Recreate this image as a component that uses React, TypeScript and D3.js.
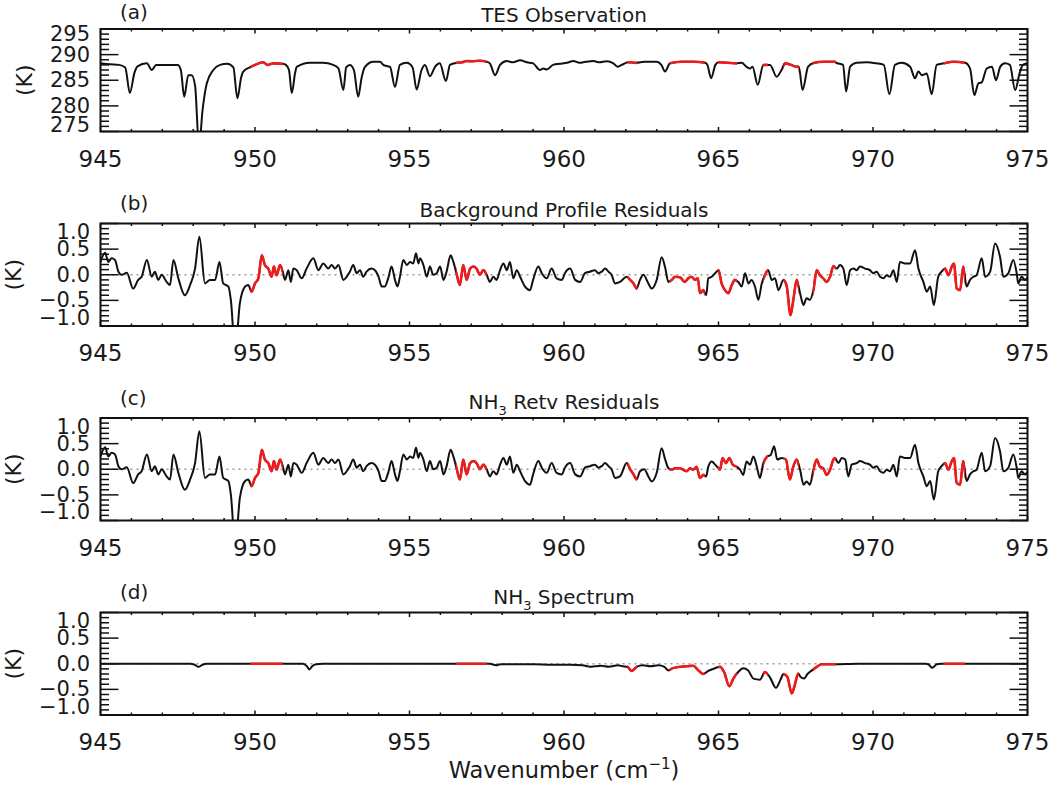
import React from 'react';
import * as d3 from 'd3';

// ---------------- DATA ----------------
const xMajorTicks = [945, 950, 955, 960, 965, 970, 975];
const xMinorTicks = d3.range(945, 976, 1);

// retrieval micro-windows drawn in red
const redWindows: [number, number][] = [
  [949.85, 950.9], [956.5, 957.5], [962.05, 962.37], [963.42, 964.56],
  [964.98, 965.6], [966.45, 966.6], [967.1, 967.6], [968.05, 968.8], [972.28, 972.98],
];

// (a) TES observation brightness temperature (K)
const tesObs: [number, number][] = [
  [945.0, 288.3], [945.3, 288.1], [945.6, 288.0], [945.8, 287.5], [945.95, 282.5], [946.1, 286.5],
  [946.2, 287.7], [946.5, 288.3], [946.66, 287.0], [946.8, 288.0], [947.2, 288.0], [947.5, 288.0],
  [947.6, 287.0], [947.71, 281.8], [947.84, 286.0], [947.95, 286.0], [948.06, 284.0], [948.19, 272.0],
  [948.3, 279.0], [948.44, 284.4], [948.65, 287.0], [948.87, 288.0], [949.1, 288.2], [949.3, 287.5],
  [949.43, 281.5], [949.55, 285.5], [949.62, 286.7], [949.86, 287.6], [950.0, 288.0], [950.27, 288.5],
  [950.4, 288.0], [950.6, 288.3], [950.9, 288.2], [951.0, 288.0], [951.1, 287.0], [951.19, 282.5],
  [951.3, 286.5], [951.35, 287.6], [951.78, 288.4], [952.2, 288.4], [952.53, 288.0], [952.7, 287.3],
  [952.86, 283.1], [952.95, 287.5], [953.07, 288.0], [953.2, 287.0], [953.34, 281.8], [953.45, 285.5],
  [953.56, 287.6], [953.83, 288.6], [954.05, 288.6], [954.15, 288.0], [954.37, 287.6], [954.53, 283.7],
  [954.69, 288.0], [954.91, 288.4], [955.1, 287.5], [955.23, 283.2], [955.39, 287.0], [955.5, 288.0],
  [955.66, 285.8], [955.83, 287.65], [955.98, 288.3], [956.18, 284.85], [956.31, 288.0], [956.53, 288.4],
  [956.7, 288.5], [956.85, 288.75], [957.0, 288.7], [957.28, 288.8], [957.5, 288.6], [957.6, 288.3],
  [957.77, 286.0], [957.93, 288.0], [958.15, 288.75], [958.35, 288.5], [958.58, 288.9], [958.8, 288.5],
  [959.0, 288.3], [959.22, 287.0], [959.33, 287.3], [959.44, 287.1], [959.65, 288.0], [959.87, 288.2],
  [960.1, 288.4], [960.3, 288.75], [960.5, 288.4], [960.7, 288.6], [960.95, 288.75], [961.15, 288.5],
  [961.38, 288.7], [961.6, 288.3], [961.73, 287.65], [961.87, 288.0], [962.08, 288.5], [962.35, 288.4],
  [962.6, 288.6], [963.0, 288.6], [963.15, 288.0], [963.27, 286.7], [963.43, 288.3], [963.8, 288.6],
  [964.2, 288.6], [964.57, 288.4], [964.64, 288.0], [964.76, 285.4], [964.9, 288.0], [965.0, 288.5],
  [965.3, 288.4], [965.58, 288.3], [965.75, 288.4], [965.9, 287.65], [966.02, 287.3], [966.1, 287.65],
  [966.27, 284.1], [966.45, 288.0], [966.67, 288.0], [966.88, 285.7], [967.04, 287.0], [967.15, 288.3],
  [967.35, 288.0], [967.5, 287.65], [967.6, 287.65], [967.72, 283.1], [967.9, 287.65], [968.1, 288.4],
  [968.4, 288.6], [968.77, 288.6], [968.82, 288.4], [969.03, 288.0], [969.13, 282.8], [969.26, 287.65],
  [969.47, 288.4], [969.8, 288.5], [970.1, 288.3], [970.35, 288.0], [970.53, 282.25], [970.71, 288.0],
  [970.93, 288.4], [971.2, 287.65], [971.36, 285.4], [971.47, 286.7], [971.58, 286.0], [971.74, 286.3],
  [971.9, 282.25], [972.06, 288.0], [972.28, 288.3], [972.6, 288.6], [972.98, 288.4], [973.14, 287.3],
  [973.28, 282.1], [973.41, 284.4], [973.52, 284.6], [973.68, 287.3], [973.85, 287.65], [973.98, 285.0],
  [974.12, 287.65], [974.27, 288.3], [974.43, 288.0], [974.6, 283.1], [974.75, 286.5], [974.85, 288.0],
  [975.0, 288.3],
];

// residuals common to (b) and (c), 945 - 962 cm-1 (K)
const residualsLeft: [number, number][] = [
  [945.0, 0.25], [945.15, 0.43], [945.25, 0.25], [945.36, 0.32], [945.47, 0.29], [945.58, 0.06],
  [945.69, 0.0], [945.85, 0.04], [946.06, -0.27], [946.22, -0.1], [946.33, -0.04], [946.5, 0.29],
  [946.66, -0.04], [946.76, 0.06], [946.87, -0.1], [946.98, 0.0], [947.14, -0.14], [947.25, -0.2],
  [947.36, 0.29], [947.52, -0.07], [947.73, -0.4], [947.9, -0.2], [948.06, 0.12], [948.2, 0.74],
  [948.38, -0.17], [948.54, -0.1], [948.71, -0.1], [948.85, 0.25], [948.97, -0.17], [949.14, -0.23],
  [949.22, -0.5], [949.36, -1.5], [949.51, -0.56], [949.68, -0.23], [949.78, -0.2], [949.89, -0.33],
  [950.0, -0.17], [950.11, -0.07], [950.22, 0.38], [950.32, 0.19], [950.43, 0.12], [950.54, -0.04],
  [950.61, 0.16], [950.7, -0.01], [950.81, 0.19], [950.9, 0.06], [950.97, -0.1], [951.08, 0.09],
  [951.16, -0.14], [951.24, 0.12], [951.35, 0.09], [951.51, -0.07], [951.67, 0.12], [951.89, 0.32],
  [952.05, 0.09], [952.21, 0.22], [952.37, 0.12], [952.48, 0.19], [952.59, 0.12], [952.7, 0.19],
  [952.86, -0.1], [953.07, 0.06], [953.18, 0.19], [953.29, 0.03], [953.4, 0.09], [953.5, -0.04],
  [953.61, 0.06], [953.77, 0.12], [953.88, 0.09], [954.0, -0.04], [954.1, -0.23], [954.2, -0.23],
  [954.31, -0.07], [954.42, 0.16], [954.53, -0.1], [954.61, -0.23], [954.69, -0.04], [954.8, 0.29],
  [954.91, 0.19], [955.02, 0.25], [955.12, 0.22], [955.21, 0.42], [955.29, 0.22], [955.34, 0.32],
  [955.45, 0.19], [955.56, -0.04], [955.66, 0.16], [955.77, 0.0], [955.88, 0.03], [955.99, 0.16],
  [956.1, -0.1], [956.2, 0.06], [956.33, 0.38], [956.42, 0.25], [956.53, 0.0], [956.63, -0.2],
  [956.74, 0.19], [956.85, -0.1], [956.96, 0.12], [957.07, 0.16], [957.17, 0.12], [957.28, 0.0],
  [957.39, 0.09], [957.5, 0.0], [957.6, -0.14], [957.71, -0.04], [957.82, -0.1], [957.93, 0.09],
  [958.04, 0.22], [958.15, 0.09], [958.25, 0.25], [958.36, -0.07], [958.47, 0.09], [958.58, -0.04],
  [958.74, -0.23], [958.9, -0.3], [959.0, -0.1], [959.17, 0.16], [959.28, 0.03], [959.44, -0.07],
  [959.6, 0.12], [959.76, -0.07], [959.93, -0.1], [960.03, 0.03], [960.2, 0.12], [960.36, -0.1],
  [960.52, -0.14], [960.68, 0.03], [960.84, 0.06], [961.0, 0.09], [961.11, 0.03], [961.22, 0.06],
  [961.33, 0.12], [961.44, 0.06], [961.54, 0.0], [961.65, -0.17], [961.81, -0.14],
];

// (b) background residuals, 962 - 969.5 cm-1
const bgResidualsMid: [number, number][] = [
  [962.03, -0.04], [962.14, -0.1], [962.25, -0.17], [962.35, -0.27], [962.46, -0.1], [962.57, 0.0],
  [962.73, -0.17], [962.84, -0.27], [963.0, -0.1], [963.16, 0.34], [963.27, 0.15], [963.38, -0.14],
  [963.49, -0.1], [963.59, -0.04], [963.75, -0.05], [963.91, -0.14], [964.02, -0.07], [964.13, -0.04],
  [964.24, -0.1], [964.33, -0.07], [964.4, -0.36], [964.51, -0.3], [964.6, -0.4], [964.67, -0.07],
  [964.78, -0.04], [964.89, 0.03], [965.0, 0.09], [965.1, -0.17], [965.21, -0.3], [965.32, -0.36],
  [965.43, -0.2], [965.53, -0.1], [965.64, -0.14], [965.75, -0.23], [965.86, 0.03], [965.97, -0.17],
  [966.07, -0.1], [966.18, -0.23], [966.29, -0.49], [966.4, -0.17], [966.5, -0.01], [966.61, 0.09],
  [966.72, -0.1], [966.83, -0.07], [966.94, -0.3], [967.1, -0.1], [967.21, -0.23], [967.33, -0.79],
  [967.42, -0.5], [967.53, -0.1], [967.64, -0.36], [967.75, -0.59], [967.85, -0.46], [967.96, -0.49],
  [968.07, -0.3], [968.18, 0.09], [968.28, -0.01], [968.39, -0.07], [968.5, -0.14], [968.61, -0.04],
  [968.72, 0.17], [968.83, 0.12], [968.93, 0.19], [969.04, 0.12], [969.15, -0.2], [969.26, 0.09],
  [969.37, 0.12], [969.47, 0.09],
];

// (c) NH3 retrieval residuals, 962 - 969.5 cm-1
const retvResidualsMid: [number, number][] = [
  [962.03, 0.12], [962.14, 0.0], [962.25, -0.1], [962.35, -0.2], [962.46, -0.04], [962.6, 0.0],
  [962.73, -0.14], [962.84, -0.24], [963.0, -0.07], [963.16, 0.41], [963.27, 0.2], [963.38, 0.02],
  [963.49, -0.01], [963.59, 0.02], [963.75, 0.02], [963.86, -0.01], [963.97, -0.04], [964.08, 0.02],
  [964.18, -0.01], [964.29, 0.05], [964.4, -0.17], [964.51, -0.11], [964.6, -0.14], [964.67, 0.05],
  [964.78, 0.15], [964.89, 0.09], [965.0, 0.02], [965.05, -0.01], [965.13, 0.22], [965.24, 0.12],
  [965.35, 0.22], [965.46, 0.09], [965.59, 0.05], [965.7, -0.01], [965.8, -0.11], [965.91, 0.15],
  [966.02, 0.09], [966.13, 0.25], [966.24, 0.05], [966.34, -0.17], [966.45, 0.12], [966.58, 0.25],
  [966.69, 0.28], [966.8, 0.45], [966.9, 0.19], [967.04, 0.22], [967.18, 0.19], [967.31, -0.2],
  [967.42, 0.05], [967.53, 0.19], [967.64, -0.01], [967.75, -0.3], [967.85, -0.24], [967.96, -0.3],
  [968.07, -0.01], [968.18, 0.19], [968.28, 0.05], [968.39, 0.02], [968.5, -0.11], [968.61, -0.01],
  [968.72, 0.19], [968.77, 0.22], [968.88, 0.12], [968.99, 0.22], [969.1, 0.19], [969.2, -0.14],
  [969.31, 0.09], [969.47, 0.12],
];

// residuals common to (b) and (c), 969.5 - 975 cm-1
const residualsRight: [number, number][] = [
  [969.58, 0.16], [969.74, 0.12], [969.9, 0.09], [970.01, 0.03], [970.12, 0.06], [970.23, -0.04],
  [970.34, -0.07], [970.44, -0.01], [970.55, -0.04], [970.66, 0.09], [970.77, -0.14], [970.87, 0.25],
  [971.03, 0.22], [971.2, 0.22], [971.36, 0.48], [971.47, 0.12], [971.63, -0.14], [971.74, -0.33],
  [971.85, -0.23], [971.97, -0.59], [972.11, -0.04], [972.22, 0.06], [972.33, 0.12], [972.44, -0.01],
  [972.55, 0.16], [972.62, 0.22], [972.71, -0.27], [972.82, -0.3], [972.92, 0.16], [973.03, -0.23],
  [973.14, -0.1], [973.25, -0.04], [973.35, -0.01], [973.52, 0.32], [973.63, -0.04], [973.79, 0.06],
  [973.95, 0.61], [974.11, 0.35], [974.22, -0.04], [974.38, 0.03], [974.54, 0.29], [974.65, 0.03],
  [974.7, -0.17], [974.81, -0.04], [974.92, -0.1], [975.0, -0.05],
];

// (d) NH3 spectrum (K)
const nh3Spectrum: [number, number][] = [
  [945.0, 0], [947.9, 0], [948.05, -0.02], [948.17, -0.06], [948.3, -0.02], [948.45, 0], [951.55, 0],
  [951.68, -0.05], [951.76, -0.11], [951.85, -0.05], [951.98, -0.01], [952.2, 0], [957.6, 0],
  [957.8, -0.03], [957.95, -0.01], [958.3, -0.01], [959.0, -0.01], [959.6, -0.02], [960.2, -0.02],
  [960.6, -0.03], [960.85, -0.06], [961.0, -0.05], [961.2, -0.04], [961.45, -0.06], [961.75, -0.03],
  [961.9, -0.05], [962.05, -0.06], [962.19, -0.14], [962.35, -0.06], [962.55, -0.03], [962.8, -0.05],
  [963.05, -0.03], [963.25, -0.06], [963.38, -0.13], [963.5, -0.09], [963.75, -0.06], [963.96, -0.05],
  [964.18, -0.04], [964.35, -0.13], [964.51, -0.2], [964.67, -0.14], [964.83, -0.1], [965.05, -0.06],
  [965.18, -0.16], [965.35, -0.44], [965.48, -0.29], [965.64, -0.16], [965.8, -0.09], [965.96, -0.13],
  [966.13, -0.29], [966.34, -0.31], [966.5, -0.16], [966.66, -0.26], [966.86, -0.47], [967.0, -0.32],
  [967.1, -0.2], [967.23, -0.26], [967.37, -0.58], [967.48, -0.39], [967.58, -0.19], [967.66, -0.26],
  [967.77, -0.29], [967.88, -0.2], [968.02, -0.13], [968.18, -0.06], [968.34, -0.01], [968.77, -0.01],
  [969.5, 0], [971.7, 0], [971.79, -0.01], [971.92, -0.08], [972.06, -0.01], [972.2, 0], [975.0, 0],
];

const tempTicks = [275, 280, 285, 290, 295];
const tempLabels = ['275', '280', '285', '290', '295'];
const residTicks = [-1, -0.5, 0, 0.5, 1];
const residLabels = ['\u22121.0', '\u22120.5', '0.0', '0.5', '1.0'];

// ---------------- CHART ----------------
const FONT = 'DejaVu Sans, Verdana, sans-serif';
const TXT = '#1a1a1a';
const RED = '#ee1c1c';

type Panel = {
  letter: string;
  title: string;
  data: [number, number][];
  domain: [number, number];
  ticks: number[];
  labels: string[];
  minorStep: number;
  zeroLine: boolean;
};

const panels: Panel[] = [
  { letter: '(a)', title: 'TES Observation', data: tesObs, domain: [275, 295], ticks: tempTicks, labels: tempLabels, minorStep: 1, zeroLine: false },
  { letter: '(b)', title: 'Background Profile Residuals', data: [...residualsLeft, ...bgResidualsMid, ...residualsRight], domain: [-1, 1], ticks: residTicks, labels: residLabels, minorStep: 0.1, zeroLine: true },
  { letter: '(c)', title: 'NH3 Retv Residuals', data: [...residualsLeft, ...retvResidualsMid, ...residualsRight], domain: [-1, 1], ticks: residTicks, labels: residLabels, minorStep: 0.1, zeroLine: true },
  { letter: '(d)', title: 'NH3 Spectrum', data: nh3Spectrum, domain: [-1, 1], ticks: residTicks, labels: residLabels, minorStep: 0.1, zeroLine: true },
];

function Title({ text, x, y }: { text: string; x: number; y: number }) {
  if (text.startsWith('NH3')) {
    const rest = text.slice(3);
    return (
      <text x={x} y={y} textAnchor="middle" fontFamily={FONT} fontSize={20} fill={TXT}>
        NH<tspan fontSize={13} dy={6}>3</tspan><tspan dy={-6}>{rest}</tspan>
      </text>
    );
  }
  return (
    <text x={x} y={y} textAnchor="middle" fontFamily={FONT} fontSize={20} fill={TXT}>{text}</text>
  );
}

export default function App() {
  const W = 1050, H = 787;
  const left = 100.5, right = 1027.5;
  const tops = [29, 223.5, 418, 612.5];
  const plotH = 102.5;
  const x = d3.scaleLinear().domain([945, 975]).range([left, right]);
  const midX = (left + right) / 2;

  return (
    <svg width={W} height={H} viewBox={`0 0 ${W} ${H}`} style={{ position: 'absolute', left: 0, top: 0, background: '#fff' }}>
      <rect x={0} y={0} width={W} height={H} fill="#fff" />
      {panels.map((p, i) => {
        const top = tops[i];
        const bottom = top + plotH;
        const y = d3.scaleLinear().domain(p.domain).range([bottom, top]);
        const line = d3.line<[number, number]>().x(d => x(d[0])).y(d => y(d[1])).curve(d3.curveMonotoneX);
        const path = line(p.data) || '';
        const minor = d3.range(p.domain[0], p.domain[1] + p.minorStep / 2, p.minorStep);
        const nudgeTop = i === 0 ? 5 : 8.5;
        const nudgeBot = i === 0 ? 7 : 8.5;
        const titleDy = i < 2 ? 7 : 9;
        const letterDy = i === 0 ? 10.5 : 13.5;
        const ytitleX = i === 0 ? 24 : 13;
        return (
          <g key={i}>
            <defs>
              <clipPath id={`plot-${i}`}>
                <rect x={left} y={top} width={right - left} height={plotH} />
              </clipPath>
              <clipPath id={`red-${i}`}>
                {redWindows.map((w, k) => (
                  <rect key={k} x={x(w[0])} y={top} width={x(w[1]) - x(w[0])} height={plotH} />
                ))}
              </clipPath>
            </defs>
            {p.zeroLine && (
              <line x1={left} x2={right} y1={y(0)} y2={y(0)} stroke="#9a9a9a" strokeWidth={1.3} strokeDasharray="2,4" />
            )}
            <path d={path} fill="none" stroke="#111" strokeWidth={2} strokeLinejoin="round" clipPath={`url(#plot-${i})`} />
            <path d={path} fill="none" stroke={RED} strokeWidth={2.6} strokeLinejoin="round" clipPath={`url(#red-${i})`} />
            {/* frame */}
            <rect x={left} y={top} width={right - left} height={plotH} fill="none" stroke="#111" strokeWidth={2} />
            {/* x ticks */}
            {xMinorTicks.map(t => {
              const len = xMajorTicks.includes(t) ? 4.5 : 2.5;
              return (
                <g key={`xt${t}`}>
                  <line x1={x(t)} x2={x(t)} y1={bottom} y2={bottom - len} stroke="#111" strokeWidth={1.5} />
                  <line x1={x(t)} x2={x(t)} y1={top} y2={top + len} stroke="#111" strokeWidth={1.5} />
                </g>
              );
            })}
            {/* y ticks */}
            {minor.map((t, k) => {
              const isMajor = p.ticks.some(m => Math.abs(m - t) < 1e-6);
              const len = isMajor ? 18 : 8.5;
              return (
                <g key={`yt${k}`}>
                  <line x1={left} x2={left + len} y1={y(t)} y2={y(t)} stroke="#111" strokeWidth={1.5} />
                  <line x1={right} x2={right - len} y1={y(t)} y2={y(t)} stroke="#111" strokeWidth={1.5} />
                </g>
              );
            })}
            {/* y labels */}
            {p.ticks.map((t, k) => {
              let yy = y(t);
              if (k === p.ticks.length - 1) yy += nudgeTop;
              if (k === 0) yy -= nudgeBot;
              return (
                <text key={`yl${k}`} x={90} y={yy} textAnchor="end" dominantBaseline="central" fontFamily={FONT} fontSize={21} fill={TXT}>
                  {p.labels[k]}
                </text>
              );
            })}
            {/* x labels */}
            {xMajorTicks.map(t => (
              <text key={`xl${t}`} x={x(t)} y={bottom + 35} textAnchor="middle" fontFamily={FONT} fontSize={23} fill={TXT}>
                {t}
              </text>
            ))}
            {/* y title */}
            <text transform={`translate(${ytitleX},${(top + bottom) / 2}) rotate(-90)`} textAnchor="middle" dominantBaseline="central" fontFamily={FONT} fontSize={22} fill={TXT}>
              (K)
            </text>
            {/* panel letter */}
            <text x={120} y={top - letterDy} fontFamily={FONT} fontSize={20} fill={TXT}>{p.letter}</text>
            <Title text={p.title} x={midX} y={top - titleDy} />
          </g>
        );
      })}
      <text x={midX} y={778} textAnchor="middle" fontFamily={FONT} fontSize={22.5} fill={TXT}>
        Wavenumber (cm<tspan fontSize={15} dy={-9}>{'\u22121'}</tspan><tspan dy={9}>)</tspan>
      </text>
    </svg>
  );
}
